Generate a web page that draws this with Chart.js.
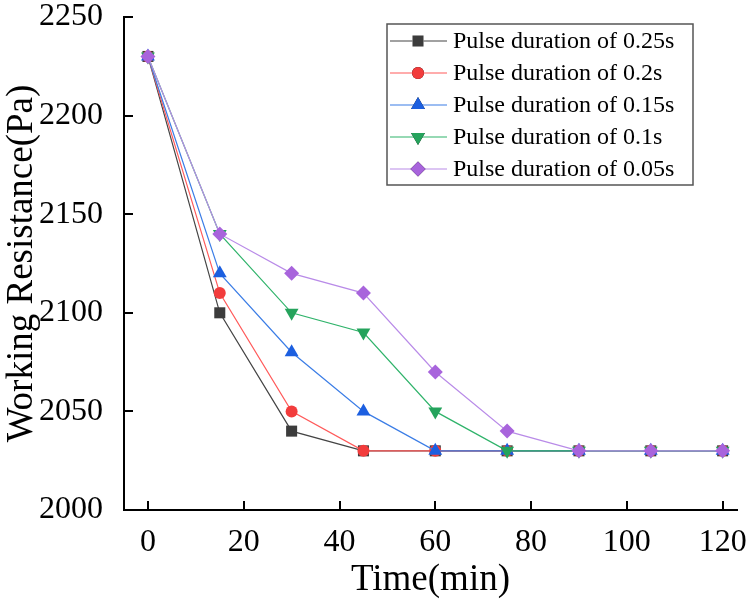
<!DOCTYPE html>
<html>
<head>
<meta charset="utf-8">
<script src="https://cdn.jsdelivr.net/npm/chart.js@4"></script>
<style>
html,body{margin:0;padding:0;background:#fff;}
#wrap{width:750px;height:616px;}
</style>
</head>
<body>
<div id="wrap"><canvas id="c" width="750" height="616"></canvas></div>
<script>
const times = [0, 15, 30, 45, 60, 75, 90, 105, 120];
const labels = ["Pulse duration of 0.25s", "Pulse duration of 0.2s", "Pulse duration of 0.15s", "Pulse duration of 0.1s", "Pulse duration of 0.05s"];
const pulse025 = [2230, 2100, 2040, 2030, 2030, 2030, 2030, 2030, 2030];
const pulse020 = [2230, 2110, 2050, 2030, 2030, 2030, 2030, 2030, 2030];
const pulse015 = [2230, 2120, 2080, 2050, 2030, 2030, 2030, 2030, 2030];
const pulse010 = [2230, 2140, 2100, 2090, 2050, 2030, 2030, 2030, 2030];
const pulse005 = [2230, 2140, 2120, 2110, 2070, 2040, 2030, 2030, 2030];
const xTicks = [0, 20, 40, 60, 80, 100, 120];
const yTicks = [2000, 2050, 2100, 2150, 2200, 2250];

const series = [pulse025, pulse020, pulse015, pulse010, pulse005];
const lineColors = ["#444444", "#ff5a5a", "#3b7de6", "#2fb36a", "#b98be8"];
const markColors = ["#3c3c3c", "#f23c3c", "#1c5fe0", "#25a35c", "#a864dc"];
const styles = ["rect", "circle", "triangle", "triangle", "rectRot"];
const rotations = [0, 0, 0, 180, 0];
const radii = [7.8, 6, 8, 8, 7.5];

const FONT = "'Liberation Serif', 'Times New Roman', serif";

const datasets = series.map((s, i) => ({
  label: labels[i],
  data: times.map((t, k) => ({x: t, y: s[k]})),
  borderColor: lineColors[i],
  backgroundColor: markColors[i],
  pointBackgroundColor: markColors[i],
  pointBorderColor: markColors[i],
  pointBorderWidth: 0,
  pointStyle: styles[i],
  rotation: rotations[i],
  pointRadius: radii[i],
  borderWidth: 1.2,
  tension: 0,
  order: 5 - i
}));

// ticks pointing into the plot
const innerTicks = {
  id: "innerTicks",
  afterDatasetsDraw(chart) {
    const ctx = chart.ctx, xs = chart.scales.x, ys = chart.scales.y;
    ctx.save();
    ctx.strokeStyle = "#000";
    ctx.lineWidth = 2;
    ctx.beginPath();
    xTicks.forEach(v => {
      const px = Math.round(xs.getPixelForValue(v));
      ctx.moveTo(px, ys.bottom);
      ctx.lineTo(px, ys.bottom - 9);
    });
    yTicks.forEach(v => {
      const py = Math.round(ys.getPixelForValue(v));
      ctx.moveTo(xs.left, py);
      ctx.lineTo(xs.left + 9, py);
    });
    ctx.stroke();
    ctx.restore();
  }
};

// boxed legend with line + marker
const boxLegend = {
  id: "boxLegend",
  afterDraw(chart) {
    const ctx = chart.ctx;
    const bx = 387, by = 24, bw = 306, bh = 161;
    ctx.save();
    ctx.fillStyle = "#fff";
    ctx.fillRect(bx, by, bw, bh);
    ctx.strokeStyle = "#555";
    ctx.lineWidth = 1.5;
    ctx.strokeRect(bx, by, bw, bh);
    chart.data.datasets.forEach((ds, i) => {
      const y = by + 17 + i * 32;
      ctx.strokeStyle = ds.borderColor;
      ctx.lineWidth = 1.2;
      ctx.beginPath();
      ctx.moveTo(bx + 3, y);
      ctx.lineTo(bx + 60, y);
      ctx.stroke();
      Chart.helpers.drawPoint(ctx, {
        pointStyle: ds.pointStyle,
        rotation: ds.rotation,
        radius: ds.pointRadius,
        borderWidth: 0
      }, bx + 31, y);
      ctx.fillStyle = ds.pointBackgroundColor;
      ctx.fill();
      ctx.fillStyle = "#000";
      ctx.font = "24px " + FONT;
      ctx.textBaseline = "middle";
      ctx.textAlign = "left";
      ctx.fillText(ds.label, bx + 66, y + 1);
    });
    ctx.restore();
  }
};

new Chart(document.getElementById("c"), {
  type: "line",
  data: {datasets: datasets},
  plugins: [innerTicks, boxLegend],
  options: {
    responsive: false,
    animation: false,
    layout: {padding: {top: 17, right: 13, left: 0, bottom: 0}},
    plugins: {legend: {display: false}, tooltip: {enabled: false}},
    scales: {
      x: {
        type: "linear",
        min: -5,
        max: 123,
        grid: {display: false},
        border: {display: true, color: "#000", width: 2},
        ticks: {
          stepSize: 20,
          includeBounds: false,
          color: "#000",
          padding: 9,
          font: {family: FONT, size: 32, lineHeight: 1.0}
        },
        title: {
          display: true,
          text: "Time(min)",
          color: "#000",
          font: {family: FONT, size: 37},
          padding: {top: 0, bottom: 14}
        },
        afterFit(s) { s.height = 106; s.paddingLeft = 0; s.paddingRight = 0; }
      },
      y: {
        min: 2000,
        max: 2250,
        grid: {display: false},
        border: {display: true, color: "#000", width: 2},
        ticks: {
          stepSize: 50,
          color: "#000",
          padding: 13,
          font: {family: FONT, size: 32, lineHeight: 1.0},
          callback: v => String(v)
        },
        title: {
          display: true,
          text: "Working Resistance(Pa)",
          color: "#000",
          font: {family: FONT, size: 37},
          padding: {top: 0, bottom: 0}
        },
        afterFit(s) { s.width = 124; s.paddingTop = 0; s.paddingBottom = 0; }
      }
    }
  }
});
</script>
</body>
</html>
